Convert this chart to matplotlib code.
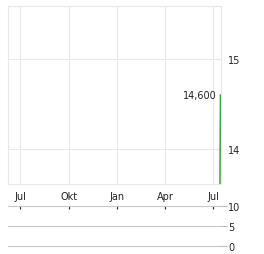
import datetime as dt
import matplotlib
matplotlib.use("Agg")
import matplotlib.pyplot as plt

# price series (only the last two sessions are visible)
price_dates = [dt.date(2025, 7, 14), dt.date(2025, 7, 15)]
price_values = [13.55, 14.60]
last_label = "14,600"

price_ticks = [14, 15]
volume_ticks = [0, 5, 10]
month_ticks = [dt.date(2024, 7, 1), dt.date(2024, 10, 1), dt.date(2025, 1, 1),
               dt.date(2025, 4, 1), dt.date(2025, 7, 1)]
month_labels = ["Jul", "Okt", "Jan", "Apr", "Jul"]

x_start = dt.date(2024, 6, 8)
x_end = dt.date(2025, 7, 16)

plt.rcParams['font.family'] = ['DejaVu Sans']
fig = plt.figure(figsize=(2.64, 2.55), dpi=100)

# main price panel
ax = fig.add_axes([8 / 264, 1 - 185 / 255, 213 / 264, 178 / 255])
ax.plot(price_dates, price_values, color="#3c9a3c", lw=1.1)
ax.set_xlim(x_start, x_end)
ax.set_ylim(13.61, 15.59)
ax.set_xticks(month_ticks)
ax.set_xticklabels(month_labels)
ax.set_yticks(price_ticks)
ax.yaxis.tick_right()
ax.grid(True, color="#e8e8e8", lw=0.8)
for s in ax.spines.values():
    s.set_color("#e8e8e8")
    s.set_linewidth(0.8)
ax.tick_params(axis="both", length=0, labelsize=7, colors="#222222")
ax.tick_params(axis="x", pad=5)
ax.tick_params(axis="y", pad=5)
ax.annotate(last_label, xy=(price_dates[-1], price_values[-1]), xytext=(-3, 0),
            textcoords="offset points", ha="right", va="center",
            fontsize=7, color="#222222")

# volume panel
vax = fig.add_axes([8 / 264, 1 - 249 / 255, 213 / 264, 42 / 255])
vax.set_xlim(x_start, x_end)
vax.set_ylim(-0.5, 10.0)
vax.set_yticks(volume_ticks)
vax.yaxis.tick_right()
vax.set_xticks(month_ticks)
vax.xaxis.tick_top()
vax.tick_params(axis="x", direction="in", length=2.5, width=0.8, colors="#222222",
                labeltop=False)
vax.tick_params(axis="y", length=4, width=0.8, color="#bbbbbb", labelsize=7,
                labelcolor="#222222", pad=1)
vax.grid(True, axis="y", color="#c8c8c8", lw=0.8)
for gl in vax.get_ygridlines():
    gl.set_clip_on(False)
for s in vax.spines.values():
    s.set_visible(False)

fig.savefig("out.png", dpi=100)
